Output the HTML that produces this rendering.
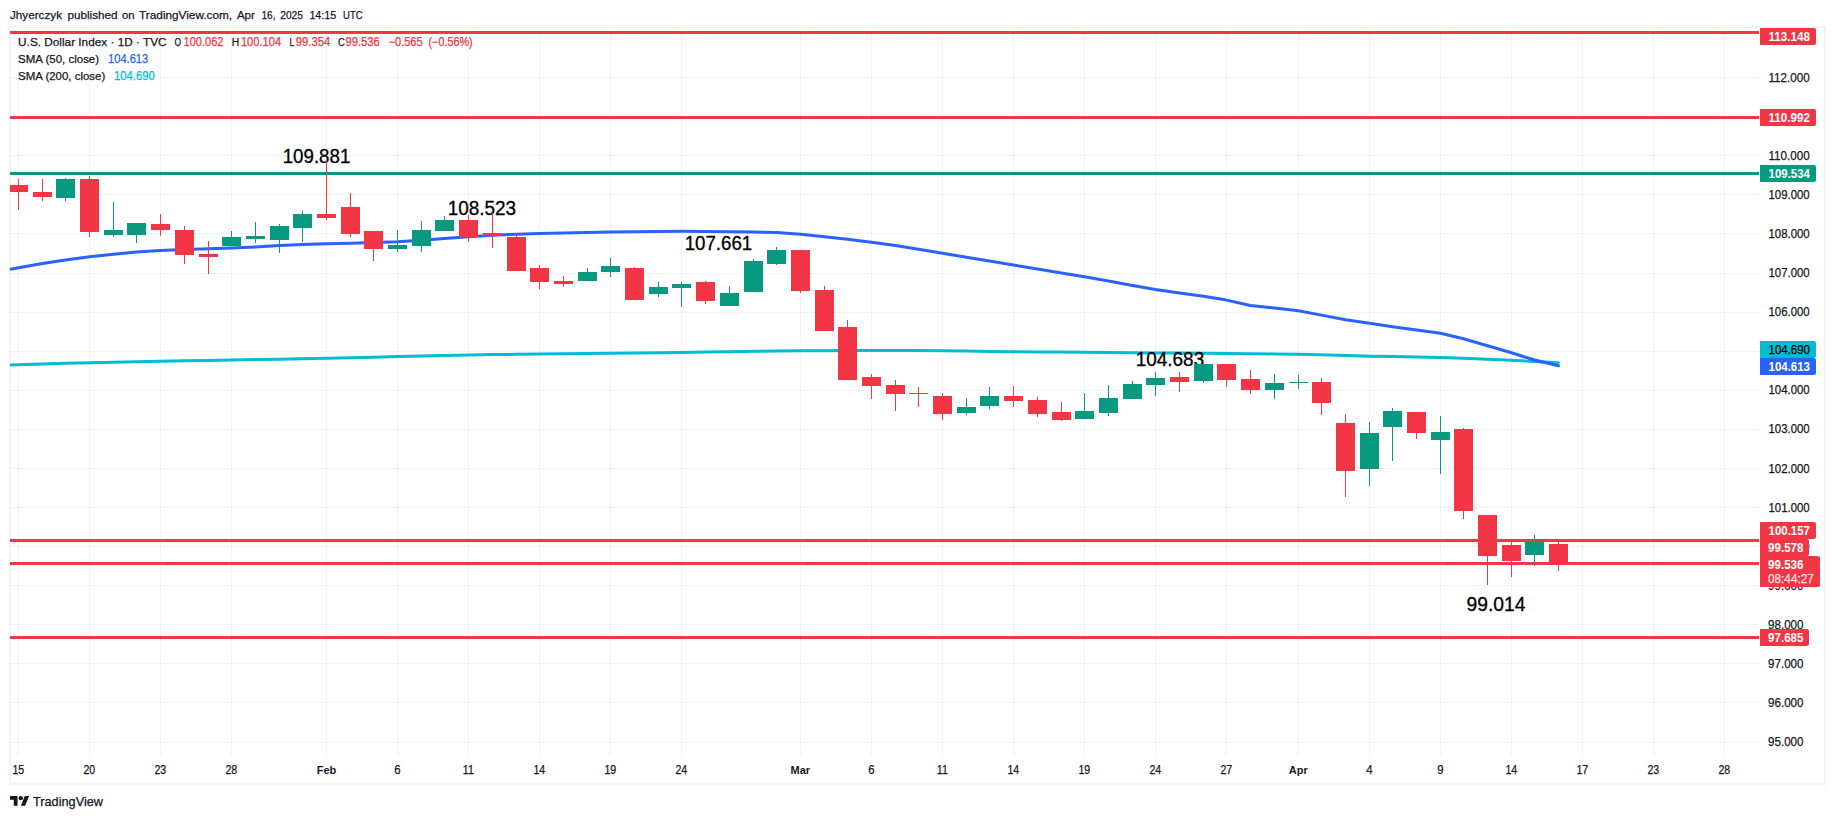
<!DOCTYPE html>
<html lang="en"><head><meta charset="utf-8"><title>U.S. Dollar Index chart</title>
<style>html,body{margin:0;padding:0;background:#fff;}svg{display:block}text{font-family:"Liberation Sans",sans-serif;}</style></head><body>
<svg width="1835" height="819" viewBox="0 0 1835 819" shape-rendering="crispEdges">
<rect width="1835" height="819" fill="#fff"/>
<defs><clipPath id="plot"><rect x="10" y="28" width="1749" height="728"/></clipPath></defs>
<g shape-rendering="geometricPrecision" fill="#f2f2f3"><rect x="9" y="26" width="1817" height="1.8"/><rect x="9" y="783" width="1817" height="1.9"/><rect x="9" y="26" width="1.8" height="759"/><rect x="1824.2" y="26" width="1.8" height="759"/></g>
<rect x="18" y="28" width="1" height="728" fill="#2a2e39" fill-opacity="0.06"/>
<rect x="89" y="28" width="1" height="728" fill="#2a2e39" fill-opacity="0.06"/>
<rect x="160" y="28" width="1" height="728" fill="#2a2e39" fill-opacity="0.06"/>
<rect x="231" y="28" width="1" height="728" fill="#2a2e39" fill-opacity="0.06"/>
<rect x="326" y="28" width="1" height="728" fill="#2a2e39" fill-opacity="0.06"/>
<rect x="397" y="28" width="1" height="728" fill="#2a2e39" fill-opacity="0.06"/>
<rect x="468" y="28" width="1" height="728" fill="#2a2e39" fill-opacity="0.06"/>
<rect x="539" y="28" width="1" height="728" fill="#2a2e39" fill-opacity="0.06"/>
<rect x="610" y="28" width="1" height="728" fill="#2a2e39" fill-opacity="0.06"/>
<rect x="681" y="28" width="1" height="728" fill="#2a2e39" fill-opacity="0.06"/>
<rect x="800" y="28" width="1" height="728" fill="#2a2e39" fill-opacity="0.06"/>
<rect x="871" y="28" width="1" height="728" fill="#2a2e39" fill-opacity="0.06"/>
<rect x="942" y="28" width="1" height="728" fill="#2a2e39" fill-opacity="0.06"/>
<rect x="1013" y="28" width="1" height="728" fill="#2a2e39" fill-opacity="0.06"/>
<rect x="1084" y="28" width="1" height="728" fill="#2a2e39" fill-opacity="0.06"/>
<rect x="1155" y="28" width="1" height="728" fill="#2a2e39" fill-opacity="0.06"/>
<rect x="1226" y="28" width="1" height="728" fill="#2a2e39" fill-opacity="0.06"/>
<rect x="1298" y="28" width="1" height="728" fill="#2a2e39" fill-opacity="0.06"/>
<rect x="1369" y="28" width="1" height="728" fill="#2a2e39" fill-opacity="0.06"/>
<rect x="1440" y="28" width="1" height="728" fill="#2a2e39" fill-opacity="0.06"/>
<rect x="1511" y="28" width="1" height="728" fill="#2a2e39" fill-opacity="0.06"/>
<rect x="1582" y="28" width="1" height="728" fill="#2a2e39" fill-opacity="0.06"/>
<rect x="1653" y="28" width="1" height="728" fill="#2a2e39" fill-opacity="0.06"/>
<rect x="1724" y="28" width="1" height="728" fill="#2a2e39" fill-opacity="0.06"/>
<rect x="10" y="38" width="1749" height="1" fill="#2a2e39" fill-opacity="0.06"/>
<rect x="10" y="77" width="1749" height="1" fill="#2a2e39" fill-opacity="0.06"/>
<rect x="10" y="116" width="1749" height="1" fill="#2a2e39" fill-opacity="0.06"/>
<rect x="10" y="155" width="1749" height="1" fill="#2a2e39" fill-opacity="0.06"/>
<rect x="10" y="194" width="1749" height="1" fill="#2a2e39" fill-opacity="0.06"/>
<rect x="10" y="233" width="1749" height="1" fill="#2a2e39" fill-opacity="0.06"/>
<rect x="10" y="273" width="1749" height="1" fill="#2a2e39" fill-opacity="0.06"/>
<rect x="10" y="312" width="1749" height="1" fill="#2a2e39" fill-opacity="0.06"/>
<rect x="10" y="351" width="1749" height="1" fill="#2a2e39" fill-opacity="0.06"/>
<rect x="10" y="390" width="1749" height="1" fill="#2a2e39" fill-opacity="0.06"/>
<rect x="10" y="429" width="1749" height="1" fill="#2a2e39" fill-opacity="0.06"/>
<rect x="10" y="468" width="1749" height="1" fill="#2a2e39" fill-opacity="0.06"/>
<rect x="10" y="507" width="1749" height="1" fill="#2a2e39" fill-opacity="0.06"/>
<rect x="10" y="546" width="1749" height="1" fill="#2a2e39" fill-opacity="0.06"/>
<rect x="10" y="585" width="1749" height="1" fill="#2a2e39" fill-opacity="0.06"/>
<rect x="10" y="624" width="1749" height="1" fill="#2a2e39" fill-opacity="0.06"/>
<rect x="10" y="663" width="1749" height="1" fill="#2a2e39" fill-opacity="0.06"/>
<rect x="10" y="702" width="1749" height="1" fill="#2a2e39" fill-opacity="0.06"/>
<rect x="10" y="742" width="1749" height="1" fill="#2a2e39" fill-opacity="0.06"/>
<polyline points="10.0,365.0 42.5,364.0 65.5,363.3 89.5,362.7 113.5,362.2 136.5,361.7 160.5,361.3 184.5,360.8 208.5,360.4 231.5,360.0 255.5,359.6 279.5,359.2 302.5,358.7 326.5,358.3 350.5,357.8 373.5,357.2 397.5,356.6 421.5,356.0 444.5,355.4 468.5,355.0 492.5,354.6 516.5,354.3 539.5,354.1 563.5,353.8 587.5,353.6 610.5,353.3 634.5,353.0 658.5,352.8 681.5,352.5 705.5,352.1 729.5,351.7 753.5,351.3 776.5,351.0 800.5,350.8 824.5,350.7 847.5,350.6 871.5,350.5 895.5,350.5 918.5,350.6 942.5,350.8 966.5,351.1 989.5,351.4 1013.5,351.7 1037.5,351.9 1061.5,352.1 1084.5,352.3 1108.5,352.6 1132.5,352.8 1155.5,353.0 1179.5,353.1 1203.5,353.3 1226.5,353.5 1250.5,353.7 1274.5,353.9 1298.5,354.2 1321.5,354.7 1345.5,355.5 1369.5,356.2 1392.5,356.6 1416.5,357.0 1440.5,357.5 1463.5,358.2 1487.5,359.2 1511.5,360.3 1534.5,361.4 1558.5,362.7" fill="none" stroke="#00BCD4" stroke-width="3" stroke-linejoin="round" stroke-linecap="round" shape-rendering="geometricPrecision" clip-path="url(#plot)"/>
<polyline points="10.0,269.2 42.5,263.5 65.5,259.9 89.5,256.7 113.5,254.2 136.5,252.1 160.5,250.5 184.5,249.5 208.5,248.8 231.5,248.0 255.5,246.9 279.5,245.6 302.5,244.6 326.5,243.8 350.5,243.2 373.5,242.6 397.5,241.7 421.5,240.2 444.5,238.4 468.5,236.7 492.5,235.3 516.5,234.2 539.5,233.5 563.5,233.0 587.5,232.5 610.5,232.1 634.5,231.7 658.5,231.4 681.5,231.3 705.5,231.4 729.5,231.7 753.5,232.0 776.5,232.5 800.5,234.2 824.5,236.8 847.5,239.3 871.5,242.2 895.5,245.6 918.5,249.2 942.5,253.2 966.5,257.2 989.5,261.1 1013.5,265.1 1037.5,269.1 1061.5,273.0 1084.5,276.8 1108.5,281.1 1132.5,285.4 1155.5,289.4 1179.5,292.9 1203.5,296.3 1226.5,300.1 1250.5,305.5 1274.5,308.1 1298.5,310.8 1321.5,315.1 1345.5,319.8 1369.5,323.3 1392.5,326.7 1416.5,330.1 1440.5,333.3 1463.5,338.7 1487.5,345.8 1511.5,352.8 1534.5,360.0 1558.5,365.8" fill="none" stroke="#2962FF" stroke-width="3" stroke-linejoin="round" stroke-linecap="round" shape-rendering="geometricPrecision" clip-path="url(#plot)"/>
<rect x="10" y="31" width="1749" height="3" fill="#F23645"/>
<rect x="10" y="116" width="1749" height="3" fill="#F23645"/>
<rect x="10" y="172" width="1749" height="3" fill="#089981"/>
<rect x="10" y="539" width="1749" height="3" fill="#F23645"/>
<rect x="10" y="562" width="1749" height="3" fill="#F23645"/>
<rect x="10" y="636" width="1749" height="3" fill="#F23645"/>
<text x="282.64" y="163" font-size="19.6" fill="#000" stroke="#000" stroke-width="0.3" textLength="67.71" lengthAdjust="spacingAndGlyphs" shape-rendering="auto">109.881</text>
<text x="447.63" y="215" font-size="19.6" fill="#000" stroke="#000" stroke-width="0.3" textLength="68.47" lengthAdjust="spacingAndGlyphs" shape-rendering="auto">108.523</text>
<text x="684.65" y="250" font-size="19.6" fill="#000" stroke="#000" stroke-width="0.3" textLength="67.51" lengthAdjust="spacingAndGlyphs" shape-rendering="auto">107.661</text>
<text x="1135.63" y="366.2" font-size="19.6" fill="#000" stroke="#000" stroke-width="0.3" textLength="68.57" lengthAdjust="spacingAndGlyphs" shape-rendering="auto">104.683</text>
<text x="1466.50" y="611" font-size="19.6" fill="#000" stroke="#000" stroke-width="0.3" textLength="59.00" lengthAdjust="spacingAndGlyphs" shape-rendering="auto">99.014</text>
<g clip-path="url(#plot)">
<rect x="18" y="179" width="1" height="31" fill="#F23645"/>
<rect x="9" y="185" width="19" height="7" fill="#F23645"/>
<rect x="42" y="179" width="1" height="22" fill="#F23645"/>
<rect x="33" y="192" width="19" height="5" fill="#F23645"/>
<rect x="65" y="178" width="1" height="23" fill="#089981"/>
<rect x="56" y="179" width="19" height="19" fill="#089981"/>
<rect x="89" y="176" width="1" height="61" fill="#F23645"/>
<rect x="80" y="179" width="19" height="53" fill="#F23645"/>
<rect x="113" y="202" width="1" height="35" fill="#089981"/>
<rect x="104" y="230" width="19" height="5" fill="#089981"/>
<rect x="136" y="223" width="1" height="20" fill="#089981"/>
<rect x="127" y="223" width="19" height="12" fill="#089981"/>
<rect x="160" y="214" width="1" height="22" fill="#F23645"/>
<rect x="151" y="224" width="19" height="6" fill="#F23645"/>
<rect x="184" y="226" width="1" height="38" fill="#F23645"/>
<rect x="175" y="230" width="19" height="25" fill="#F23645"/>
<rect x="208" y="241" width="1" height="33" fill="#F23645"/>
<rect x="199" y="254" width="19" height="3" fill="#F23645"/>
<rect x="231" y="231" width="1" height="15" fill="#089981"/>
<rect x="222" y="237" width="19" height="9" fill="#089981"/>
<rect x="255" y="222" width="1" height="21" fill="#089981"/>
<rect x="246" y="236" width="19" height="3" fill="#089981"/>
<rect x="279" y="224" width="1" height="29" fill="#089981"/>
<rect x="270" y="226" width="19" height="14" fill="#089981"/>
<rect x="302" y="211" width="1" height="31" fill="#089981"/>
<rect x="293" y="214" width="19" height="14" fill="#089981"/>
<rect x="326" y="160" width="1" height="60" fill="#F23645"/>
<rect x="317" y="214" width="19" height="4" fill="#F23645"/>
<rect x="350" y="193" width="1" height="44" fill="#F23645"/>
<rect x="341" y="207" width="19" height="27" fill="#F23645"/>
<rect x="373" y="231" width="1" height="30" fill="#F23645"/>
<rect x="364" y="231" width="19" height="18" fill="#F23645"/>
<rect x="397" y="230" width="1" height="22" fill="#089981"/>
<rect x="388" y="245" width="19" height="4" fill="#089981"/>
<rect x="421" y="221" width="1" height="31" fill="#089981"/>
<rect x="412" y="230" width="19" height="16" fill="#089981"/>
<rect x="444" y="216" width="1" height="15" fill="#089981"/>
<rect x="435" y="220" width="19" height="11" fill="#089981"/>
<rect x="468" y="215" width="1" height="27" fill="#F23645"/>
<rect x="459" y="220" width="19" height="17" fill="#F23645"/>
<rect x="492" y="213" width="1" height="35" fill="#F23645"/>
<rect x="483" y="233" width="19" height="3" fill="#F23645"/>
<rect x="516" y="234" width="1" height="37" fill="#F23645"/>
<rect x="507" y="237" width="19" height="34" fill="#F23645"/>
<rect x="539" y="265" width="1" height="24" fill="#F23645"/>
<rect x="530" y="268" width="19" height="14" fill="#F23645"/>
<rect x="563" y="276" width="1" height="11" fill="#F23645"/>
<rect x="554" y="281" width="19" height="3" fill="#F23645"/>
<rect x="587" y="268" width="1" height="13" fill="#089981"/>
<rect x="578" y="272" width="19" height="9" fill="#089981"/>
<rect x="610" y="258" width="1" height="19" fill="#089981"/>
<rect x="601" y="266" width="19" height="6" fill="#089981"/>
<rect x="634" y="267" width="1" height="33" fill="#F23645"/>
<rect x="625" y="268" width="19" height="32" fill="#F23645"/>
<rect x="658" y="282" width="1" height="15" fill="#089981"/>
<rect x="649" y="287" width="19" height="7" fill="#089981"/>
<rect x="681" y="282" width="1" height="25" fill="#089981"/>
<rect x="672" y="284" width="19" height="4" fill="#089981"/>
<rect x="705" y="281" width="1" height="23" fill="#F23645"/>
<rect x="696" y="282" width="19" height="19" fill="#F23645"/>
<rect x="729" y="286" width="1" height="20" fill="#089981"/>
<rect x="720" y="293" width="19" height="13" fill="#089981"/>
<rect x="753" y="259" width="1" height="33" fill="#089981"/>
<rect x="744" y="261" width="19" height="31" fill="#089981"/>
<rect x="776" y="247" width="1" height="18" fill="#089981"/>
<rect x="767" y="250" width="19" height="14" fill="#089981"/>
<rect x="800" y="250" width="1" height="43" fill="#F23645"/>
<rect x="791" y="250" width="19" height="41" fill="#F23645"/>
<rect x="824" y="286" width="1" height="45" fill="#F23645"/>
<rect x="815" y="290" width="19" height="41" fill="#F23645"/>
<rect x="847" y="320" width="1" height="60" fill="#F23645"/>
<rect x="838" y="327" width="19" height="53" fill="#F23645"/>
<rect x="871" y="374" width="1" height="25" fill="#F23645"/>
<rect x="862" y="377" width="19" height="9" fill="#F23645"/>
<rect x="895" y="380" width="1" height="31" fill="#F23645"/>
<rect x="886" y="385" width="19" height="9" fill="#F23645"/>
<rect x="918" y="387" width="1" height="20" fill="#F23645"/>
<rect x="909" y="393" width="19" height="1" fill="#F23645"/>
<rect x="942" y="393" width="1" height="27" fill="#F23645"/>
<rect x="933" y="396" width="19" height="18" fill="#F23645"/>
<rect x="966" y="398" width="1" height="17" fill="#089981"/>
<rect x="957" y="407" width="19" height="6" fill="#089981"/>
<rect x="989" y="387" width="1" height="22" fill="#089981"/>
<rect x="980" y="396" width="19" height="10" fill="#089981"/>
<rect x="1013" y="386" width="1" height="21" fill="#F23645"/>
<rect x="1004" y="396" width="19" height="5" fill="#F23645"/>
<rect x="1037" y="397" width="1" height="20" fill="#F23645"/>
<rect x="1028" y="400" width="19" height="14" fill="#F23645"/>
<rect x="1061" y="402" width="1" height="19" fill="#F23645"/>
<rect x="1052" y="412" width="19" height="8" fill="#F23645"/>
<rect x="1084" y="393" width="1" height="26" fill="#089981"/>
<rect x="1075" y="411" width="19" height="8" fill="#089981"/>
<rect x="1108" y="385" width="1" height="31" fill="#089981"/>
<rect x="1099" y="398" width="19" height="15" fill="#089981"/>
<rect x="1132" y="381" width="1" height="18" fill="#089981"/>
<rect x="1123" y="384" width="19" height="15" fill="#089981"/>
<rect x="1155" y="372" width="1" height="24" fill="#089981"/>
<rect x="1146" y="378" width="19" height="7" fill="#089981"/>
<rect x="1179" y="372" width="1" height="20" fill="#F23645"/>
<rect x="1170" y="377" width="19" height="5" fill="#F23645"/>
<rect x="1203" y="364" width="1" height="19" fill="#089981"/>
<rect x="1194" y="364" width="19" height="17" fill="#089981"/>
<rect x="1226" y="364" width="1" height="23" fill="#F23645"/>
<rect x="1217" y="364" width="19" height="16" fill="#F23645"/>
<rect x="1250" y="370" width="1" height="24" fill="#F23645"/>
<rect x="1241" y="379" width="19" height="11" fill="#F23645"/>
<rect x="1274" y="374" width="1" height="25" fill="#089981"/>
<rect x="1265" y="383" width="19" height="7" fill="#089981"/>
<rect x="1298" y="375" width="1" height="14" fill="#089981"/>
<rect x="1289" y="382" width="19" height="1" fill="#089981"/>
<rect x="1321" y="378" width="1" height="37" fill="#F23645"/>
<rect x="1312" y="382" width="19" height="21" fill="#F23645"/>
<rect x="1345" y="414" width="1" height="83" fill="#F23645"/>
<rect x="1336" y="423" width="19" height="48" fill="#F23645"/>
<rect x="1369" y="422" width="1" height="64" fill="#089981"/>
<rect x="1360" y="433" width="19" height="36" fill="#089981"/>
<rect x="1392" y="408" width="1" height="53" fill="#089981"/>
<rect x="1383" y="411" width="19" height="16" fill="#089981"/>
<rect x="1416" y="412" width="1" height="27" fill="#F23645"/>
<rect x="1407" y="412" width="19" height="21" fill="#F23645"/>
<rect x="1440" y="416" width="1" height="58" fill="#089981"/>
<rect x="1431" y="432" width="19" height="8" fill="#089981"/>
<rect x="1463" y="428" width="1" height="91" fill="#F23645"/>
<rect x="1454" y="429" width="19" height="82" fill="#F23645"/>
<rect x="1487" y="515" width="1" height="70" fill="#F23645"/>
<rect x="1478" y="515" width="19" height="41" fill="#F23645"/>
<rect x="1511" y="542" width="1" height="35" fill="#F23645"/>
<rect x="1502" y="545" width="19" height="16" fill="#F23645"/>
<rect x="1534" y="535" width="1" height="31" fill="#089981"/>
<rect x="1525" y="542" width="19" height="13" fill="#089981"/>
<rect x="1558" y="542" width="1" height="29" fill="#F23645"/>
<rect x="1549" y="544" width="19" height="21" fill="#F23645"/>
</g>
<text x="1768.50" y="82.0" font-size="12.0" fill="#131722" stroke="#131722" stroke-width="0.25" textLength="41.18" lengthAdjust="spacingAndGlyphs" shape-rendering="auto">112.000</text>
<text x="1768.50" y="121.05" font-size="12.0" fill="#131722" stroke="#131722" stroke-width="0.25" textLength="41.18" lengthAdjust="spacingAndGlyphs" shape-rendering="auto">111.000</text>
<text x="1768.50" y="160.10000000000002" font-size="12.0" fill="#131722" stroke="#131722" stroke-width="0.25" textLength="41.18" lengthAdjust="spacingAndGlyphs" shape-rendering="auto">110.000</text>
<text x="1768.50" y="199.15" font-size="12.0" fill="#131722" stroke="#131722" stroke-width="0.25" textLength="41.19" lengthAdjust="spacingAndGlyphs" shape-rendering="auto">109.000</text>
<text x="1768.50" y="238.2" font-size="12.0" fill="#131722" stroke="#131722" stroke-width="0.25" textLength="41.19" lengthAdjust="spacingAndGlyphs" shape-rendering="auto">108.000</text>
<text x="1768.50" y="277.25" font-size="12.0" fill="#131722" stroke="#131722" stroke-width="0.25" textLength="41.19" lengthAdjust="spacingAndGlyphs" shape-rendering="auto">107.000</text>
<text x="1768.50" y="316.3" font-size="12.0" fill="#131722" stroke="#131722" stroke-width="0.25" textLength="41.19" lengthAdjust="spacingAndGlyphs" shape-rendering="auto">106.000</text>
<text x="1768.50" y="394.4" font-size="12.0" fill="#131722" stroke="#131722" stroke-width="0.25" textLength="41.19" lengthAdjust="spacingAndGlyphs" shape-rendering="auto">104.000</text>
<text x="1768.50" y="433.45" font-size="12.0" fill="#131722" stroke="#131722" stroke-width="0.25" textLength="41.19" lengthAdjust="spacingAndGlyphs" shape-rendering="auto">103.000</text>
<text x="1768.50" y="472.5" font-size="12.0" fill="#131722" stroke="#131722" stroke-width="0.25" textLength="41.19" lengthAdjust="spacingAndGlyphs" shape-rendering="auto">102.000</text>
<text x="1768.50" y="511.54999999999995" font-size="12.0" fill="#131722" stroke="#131722" stroke-width="0.25" textLength="41.19" lengthAdjust="spacingAndGlyphs" shape-rendering="auto">101.000</text>
<text x="1768.50" y="550.5999999999999" font-size="12.0" fill="#131722" stroke="#131722" stroke-width="0.25" textLength="41.19" lengthAdjust="spacingAndGlyphs" shape-rendering="auto">100.000</text>
<text x="1768.10" y="589.65" font-size="12.0" fill="#131722" stroke="#131722" stroke-width="0.25" textLength="35.29" lengthAdjust="spacingAndGlyphs" shape-rendering="auto">99.000</text>
<text x="1768.10" y="628.6999999999999" font-size="12.0" fill="#131722" stroke="#131722" stroke-width="0.25" textLength="35.29" lengthAdjust="spacingAndGlyphs" shape-rendering="auto">98.000</text>
<text x="1768.10" y="667.75" font-size="12.0" fill="#131722" stroke="#131722" stroke-width="0.25" textLength="35.29" lengthAdjust="spacingAndGlyphs" shape-rendering="auto">97.000</text>
<text x="1768.10" y="706.8" font-size="12.0" fill="#131722" stroke="#131722" stroke-width="0.25" textLength="35.29" lengthAdjust="spacingAndGlyphs" shape-rendering="auto">96.000</text>
<text x="1768.10" y="745.8499999999999" font-size="12.0" fill="#131722" stroke="#131722" stroke-width="0.25" textLength="35.29" lengthAdjust="spacingAndGlyphs" shape-rendering="auto">95.000</text>
<path d="M1760,28H1814Q1816,28 1816,30V43Q1816,45 1814,45H1760Z" fill="#F23645" shape-rendering="geometricPrecision"/>
<text x="1768.50" y="41" font-size="12.0" fill="#fff" font-weight="bold" textLength="41.48" lengthAdjust="spacingAndGlyphs" shape-rendering="auto">113.148</text>
<path d="M1760,109H1814Q1816,109 1816,111V124Q1816,126 1814,126H1760Z" fill="#F23645" shape-rendering="geometricPrecision"/>
<text x="1768.50" y="122" font-size="12.0" fill="#fff" font-weight="bold" textLength="41.48" lengthAdjust="spacingAndGlyphs" shape-rendering="auto">110.992</text>
<path d="M1760,165H1814Q1816,165 1816,167V180Q1816,182 1814,182H1760Z" fill="#089981" shape-rendering="geometricPrecision"/>
<text x="1768.50" y="178" font-size="12.0" fill="#fff" font-weight="bold" textLength="41.49" lengthAdjust="spacingAndGlyphs" shape-rendering="auto">109.534</text>
<path d="M1760,341H1814Q1816,341 1816,343V356Q1816,358 1814,358H1760Z" fill="#00BCD4" shape-rendering="geometricPrecision"/>
<text x="1768.50" y="354" font-size="12.0" fill="#000" stroke="#000" stroke-width="0.25" textLength="41.49" lengthAdjust="spacingAndGlyphs" shape-rendering="auto">104.690</text>
<path d="M1760,358H1814Q1816,358 1816,360V373Q1816,375 1814,375H1760Z" fill="#2962FF" shape-rendering="geometricPrecision"/>
<text x="1768.50" y="371" font-size="12.0" fill="#fff" font-weight="bold" textLength="41.49" lengthAdjust="spacingAndGlyphs" shape-rendering="auto">104.613</text>
<path d="M1760,522H1814Q1816,522 1816,524V537Q1816,539 1814,539H1760Z" fill="#F23645" shape-rendering="geometricPrecision"/>
<text x="1768.50" y="535" font-size="12.0" fill="#fff" font-weight="bold" textLength="41.49" lengthAdjust="spacingAndGlyphs" shape-rendering="auto">100.157</text>
<path d="M1760,539H1807Q1809,539 1809,541V554Q1809,556 1807,556H1760Z" fill="#F23645" shape-rendering="geometricPrecision"/>
<text x="1768.10" y="552" font-size="12.0" fill="#fff" font-weight="bold" textLength="35.29" lengthAdjust="spacingAndGlyphs" shape-rendering="auto">99.578</text>
<path d="M1760,556H1818Q1820,556 1820,558V585Q1820,587 1818,587H1760Z" fill="#F23645" shape-rendering="geometricPrecision"/>
<text x="1768.10" y="569" font-size="12.0" fill="#fff" font-weight="bold" textLength="35.29" lengthAdjust="spacingAndGlyphs" shape-rendering="auto">99.536</text>
<text x="1768.10" y="583" font-size="12.0" fill="#fff" stroke="#fff" stroke-width="0.25" textLength="45.58" lengthAdjust="spacingAndGlyphs" fill-opacity="0.8" shape-rendering="auto">08:44:27</text>
<path d="M1760,629H1807Q1809,629 1809,631V644Q1809,646 1807,646H1760Z" fill="#F23645" shape-rendering="geometricPrecision"/>
<text x="1768.10" y="642" font-size="12.0" fill="#fff" font-weight="bold" textLength="35.29" lengthAdjust="spacingAndGlyphs" shape-rendering="auto">97.685</text>
<text x="12.45" y="774" font-size="12.0" fill="#131722" stroke="#131722" stroke-width="0.25" textLength="11.81" lengthAdjust="spacingAndGlyphs" shape-rendering="auto">15</text>
<text x="83.45" y="774" font-size="12.0" fill="#131722" stroke="#131722" stroke-width="0.25" textLength="11.81" lengthAdjust="spacingAndGlyphs" shape-rendering="auto">20</text>
<text x="154.45" y="774" font-size="12.0" fill="#131722" stroke="#131722" stroke-width="0.25" textLength="11.81" lengthAdjust="spacingAndGlyphs" shape-rendering="auto">23</text>
<text x="225.45" y="774" font-size="12.0" fill="#131722" stroke="#131722" stroke-width="0.25" textLength="11.81" lengthAdjust="spacingAndGlyphs" shape-rendering="auto">28</text>
<text x="316.84" y="774" font-size="11.8" fill="#131722" font-weight="bold" textLength="19.50" lengthAdjust="spacingAndGlyphs" shape-rendering="auto">Feb</text>
<text x="394.18" y="774" font-size="12.0" fill="#131722" stroke="#131722" stroke-width="0.25" textLength="6.34" lengthAdjust="spacingAndGlyphs" shape-rendering="auto">6</text>
<text x="462.84" y="774" font-size="12.0" fill="#131722" stroke="#131722" stroke-width="0.25" textLength="11.02" lengthAdjust="spacingAndGlyphs" shape-rendering="auto">11</text>
<text x="533.45" y="774" font-size="12.0" fill="#131722" stroke="#131722" stroke-width="0.25" textLength="11.81" lengthAdjust="spacingAndGlyphs" shape-rendering="auto">14</text>
<text x="604.45" y="774" font-size="12.0" fill="#131722" stroke="#131722" stroke-width="0.25" textLength="11.81" lengthAdjust="spacingAndGlyphs" shape-rendering="auto">19</text>
<text x="675.45" y="774" font-size="12.0" fill="#131722" stroke="#131722" stroke-width="0.25" textLength="11.81" lengthAdjust="spacingAndGlyphs" shape-rendering="auto">24</text>
<text x="790.55" y="774" font-size="11.8" fill="#131722" font-weight="bold" textLength="19.51" lengthAdjust="spacingAndGlyphs" shape-rendering="auto">Mar</text>
<text x="868.17" y="774" font-size="12.0" fill="#131722" stroke="#131722" stroke-width="0.25" textLength="6.34" lengthAdjust="spacingAndGlyphs" shape-rendering="auto">6</text>
<text x="936.84" y="774" font-size="12.0" fill="#131722" stroke="#131722" stroke-width="0.25" textLength="11.02" lengthAdjust="spacingAndGlyphs" shape-rendering="auto">11</text>
<text x="1007.45" y="774" font-size="12.0" fill="#131722" stroke="#131722" stroke-width="0.25" textLength="11.81" lengthAdjust="spacingAndGlyphs" shape-rendering="auto">14</text>
<text x="1078.45" y="774" font-size="12.0" fill="#131722" stroke="#131722" stroke-width="0.25" textLength="11.81" lengthAdjust="spacingAndGlyphs" shape-rendering="auto">19</text>
<text x="1149.45" y="774" font-size="12.0" fill="#131722" stroke="#131722" stroke-width="0.25" textLength="11.81" lengthAdjust="spacingAndGlyphs" shape-rendering="auto">24</text>
<text x="1220.45" y="774" font-size="12.0" fill="#131722" stroke="#131722" stroke-width="0.25" textLength="11.81" lengthAdjust="spacingAndGlyphs" shape-rendering="auto">27</text>
<text x="1288.86" y="774" font-size="11.8" fill="#131722" font-weight="bold" textLength="18.89" lengthAdjust="spacingAndGlyphs" shape-rendering="auto">Apr</text>
<text x="1366.17" y="774" font-size="12.0" fill="#131722" stroke="#131722" stroke-width="0.25" textLength="6.34" lengthAdjust="spacingAndGlyphs" shape-rendering="auto">4</text>
<text x="1437.17" y="774" font-size="12.0" fill="#131722" stroke="#131722" stroke-width="0.25" textLength="6.34" lengthAdjust="spacingAndGlyphs" shape-rendering="auto">9</text>
<text x="1505.45" y="774" font-size="12.0" fill="#131722" stroke="#131722" stroke-width="0.25" textLength="11.81" lengthAdjust="spacingAndGlyphs" shape-rendering="auto">14</text>
<text x="1576.45" y="774" font-size="12.0" fill="#131722" stroke="#131722" stroke-width="0.25" textLength="11.81" lengthAdjust="spacingAndGlyphs" shape-rendering="auto">17</text>
<text x="1647.45" y="774" font-size="12.0" fill="#131722" stroke="#131722" stroke-width="0.25" textLength="11.81" lengthAdjust="spacingAndGlyphs" shape-rendering="auto">23</text>
<text x="1718.45" y="774" font-size="12.0" fill="#131722" stroke="#131722" stroke-width="0.25" textLength="11.81" lengthAdjust="spacingAndGlyphs" shape-rendering="auto">28</text>
<text x="10.00" y="19" font-size="11.8" fill="#131722" stroke="#131722" stroke-width="0.25" textLength="52.00" lengthAdjust="spacingAndGlyphs" shape-rendering="auto">Jhyerczyk</text>
<text x="67.50" y="19" font-size="11.8" fill="#131722" stroke="#131722" stroke-width="0.25" textLength="49.95" lengthAdjust="spacingAndGlyphs" shape-rendering="auto">published</text>
<text x="121.90" y="19" font-size="11.8" fill="#131722" stroke="#131722" stroke-width="0.25" textLength="12.64" lengthAdjust="spacingAndGlyphs" shape-rendering="auto">on</text>
<text x="139.10" y="19" font-size="11.8" fill="#131722" stroke="#131722" stroke-width="0.25" textLength="92.98" lengthAdjust="spacingAndGlyphs" shape-rendering="auto">TradingView.com,</text>
<text x="236.90" y="19" font-size="11.8" fill="#131722" stroke="#131722" stroke-width="0.25" textLength="18.03" lengthAdjust="spacingAndGlyphs" shape-rendering="auto">Apr</text>
<text x="261.50" y="19" font-size="11.8" fill="#131722" stroke="#131722" stroke-width="0.25" textLength="13.94" lengthAdjust="spacingAndGlyphs" shape-rendering="auto">16,</text>
<text x="280.20" y="19" font-size="11.8" fill="#131722" stroke="#131722" stroke-width="0.25" textLength="22.82" lengthAdjust="spacingAndGlyphs" shape-rendering="auto">2025</text>
<text x="309.40" y="19" font-size="11.8" fill="#131722" stroke="#131722" stroke-width="0.25" textLength="26.90" lengthAdjust="spacingAndGlyphs" shape-rendering="auto">14:15</text>
<text x="343.10" y="19" font-size="11.8" fill="#131722" stroke="#131722" stroke-width="0.25" textLength="19.42" lengthAdjust="spacingAndGlyphs" shape-rendering="auto">UTC</text>
<text x="18.10" y="45.8" font-size="11.7" fill="#131722" stroke="#131722" stroke-width="0.25" textLength="148.44" lengthAdjust="spacingAndGlyphs" shape-rendering="auto">U.S. Dollar Index · 1D · TVC</text>
<text x="174.60" y="45.8" font-size="11.7" fill="#131722" stroke="#131722" stroke-width="0.25" textLength="6.57" lengthAdjust="spacingAndGlyphs" shape-rendering="auto">O</text>
<text x="183.60" y="45.8" font-size="12.0" fill="#F23645" stroke="#F23645" stroke-width="0.25" textLength="39.80" lengthAdjust="spacingAndGlyphs" shape-rendering="auto">100.062</text>
<text x="231.80" y="45.8" font-size="11.7" fill="#131722" stroke="#131722" stroke-width="0.25" textLength="7.49" lengthAdjust="spacingAndGlyphs" shape-rendering="auto">H</text>
<text x="240.90" y="45.8" font-size="12.0" fill="#F23645" stroke="#F23645" stroke-width="0.25" textLength="40.20" lengthAdjust="spacingAndGlyphs" shape-rendering="auto">100.104</text>
<text x="289.50" y="45.8" font-size="11.7" fill="#131722" stroke="#131722" stroke-width="0.25" textLength="4.83" lengthAdjust="spacingAndGlyphs" shape-rendering="auto">L</text>
<text x="295.80" y="45.8" font-size="12.0" fill="#F23645" stroke="#F23645" stroke-width="0.25" textLength="34.49" lengthAdjust="spacingAndGlyphs" shape-rendering="auto">99.354</text>
<text x="337.90" y="45.8" font-size="11.7" fill="#131722" stroke="#131722" stroke-width="0.25" textLength="6.86" lengthAdjust="spacingAndGlyphs" shape-rendering="auto">C</text>
<text x="345.40" y="45.8" font-size="12.0" fill="#F23645" stroke="#F23645" stroke-width="0.25" textLength="34.39" lengthAdjust="spacingAndGlyphs" shape-rendering="auto">99.536</text>
<text x="388.60" y="45.8" font-size="12.0" fill="#F23645" stroke="#F23645" stroke-width="0.25" textLength="34.00" lengthAdjust="spacingAndGlyphs" shape-rendering="auto">−0.565</text>
<text x="428.60" y="45.8" font-size="11.9" fill="#F23645" stroke="#F23645" stroke-width="0.25" textLength="44.06" lengthAdjust="spacingAndGlyphs" shape-rendering="auto">(−0.56%)</text>
<text x="18.10" y="62.8" font-size="11.7" fill="#131722" stroke="#131722" stroke-width="0.25" textLength="80.99" lengthAdjust="spacingAndGlyphs" shape-rendering="auto">SMA (50, close)</text>
<text x="108.10" y="62.8" font-size="12.0" fill="#2962FF" stroke="#2962FF" stroke-width="0.25" textLength="40.10" lengthAdjust="spacingAndGlyphs" shape-rendering="auto">104.613</text>
<text x="18.10" y="79.5" font-size="11.7" fill="#131722" stroke="#131722" stroke-width="0.25" textLength="87.10" lengthAdjust="spacingAndGlyphs" shape-rendering="auto">SMA (200, close)</text>
<text x="114.00" y="79.5" font-size="12.0" fill="#00BCD4" stroke="#00BCD4" stroke-width="0.25" textLength="40.79" lengthAdjust="spacingAndGlyphs" shape-rendering="auto">104.690</text>
<g transform="translate(10,793.85) scale(0.539)" fill="#131722" shape-rendering="geometricPrecision"><path d="M14 22H7V11H0V4h14v18zM28 22h-8l7.5-18h8L28 22z"/><circle cx="20" cy="8" r="4"/></g>
<text x="33.00" y="805.7" font-size="11.9" fill="#131722" stroke="#131722" stroke-width="0.25" textLength="69.96" lengthAdjust="spacingAndGlyphs" shape-rendering="auto">TradingView</text>
</svg></body></html>
